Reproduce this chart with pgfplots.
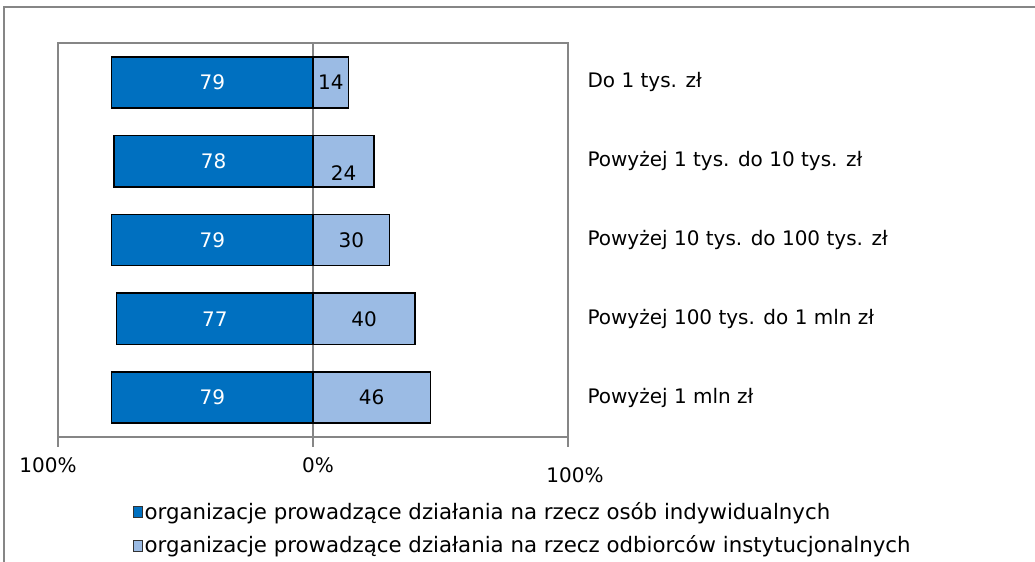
\documentclass[border=0pt]{standalone}
\usepackage{pgfplots}
\pgfplotsset{compat=1.18}
\usepackage{pgfplotstable}
\usepackage{fontspec}
\setmainfont{DejaVu Sans}

\definecolor{indblue}{RGB}{0,112,192}
\definecolor{instblue}{RGB}{155,187,228}
\definecolor{frame}{RGB}{134,134,134}

% cat: 1 = top row
\pgfplotstableread{
cat ind inst dy
1 79 14 0
2 78 24 -12
3 79 30 0
4 77 40 0
5 79 46 0
}\data

\begin{document}
\begin{tikzpicture}[x=1bp,y=1bp,font=\fontsize{20bp}{24bp}\selectfont]
  \useasboundingbox (0,0) rectangle (1035,562);
  \draw[frame, line width=2bp] (4,0) -- (4,555) -- (1035,555);

  \begin{axis}[
      at={(58bp,125bp)}, anchor=south west,
      width=510bp, height=394bp, scale only axis,
      xmin=-100, xmax=100,
      ymin=0.5, ymax=5.5, y dir=reverse,
      xbar, bar shift=0pt, bar width=0.65,
      axis line style={frame, line width=1.5bp},
      xtick={-100,0,100}, xticklabels={}, xtick pos=bottom,
      tick align=outside, major tick length=10bp,
      xtick style={frame, line width=1.5bp},
      xmajorgrids, grid style={frame, line width=1.5bp},
      ytick={1,2,3,4,5},
      yticklabels={Do 1 tys. zł, Powyżej 1 tys. do 10 tys. zł,
        Powyżej 10 tys. do 100 tys. zł, Powyżej 100 tys. do 1 mln zł,
        Powyżej 1 mln zł},
      yticklabel pos=right, ytick style={draw=none},
      yticklabel style={anchor=west, xshift=6bp},
      clip=false,
      /pgf/number format/assume math mode=true,
      point meta=explicit,
      visualization depends on={x \as \rawx},
      nodes near coords,
      every node near coord/.append style={anchor=center,
        shift={(axis direction cs:-\rawx/2,0)}, yshift=\dy bp},
      legend style={draw=none, fill=none, at={(0.146,-0.16)}, anchor=north west,
        row sep=11bp, cells={anchor=west}, inner sep=0pt,
        font=\fontsize{21.3bp}{25bp}\selectfont},
      legend cell align=left,
      legend image code/.code={\draw[#1, draw=black!80, line width=1bp] (0bp,-6bp) rectangle (9bp,5bp);},
    ]
    \addplot[fill=indblue, draw=black, line width=1.5bp,
      visualization depends on={0 \as \dy},
      nodes near coords style={text=white}]
      table[x expr=-\thisrow{ind}, y=cat, meta=ind] {\data};
    \addplot[fill=instblue, draw=black, line width=1.5bp,
      visualization depends on={\thisrow{dy} \as \dy},
      nodes near coords style={text=black}]
      table[x=inst, y=cat, meta=inst] {\data};
    \legend{organizacje prowadzące działania na rzecz osób indywidualnych,
      organizacje prowadzące działania na rzecz odbiorców instytucjonalnych}
  \end{axis}

  \node at (48,97) {100\%};
  \node at (318,97) {0\%};
  \node at (575,87) {100\%};
\end{tikzpicture}
\end{document}
